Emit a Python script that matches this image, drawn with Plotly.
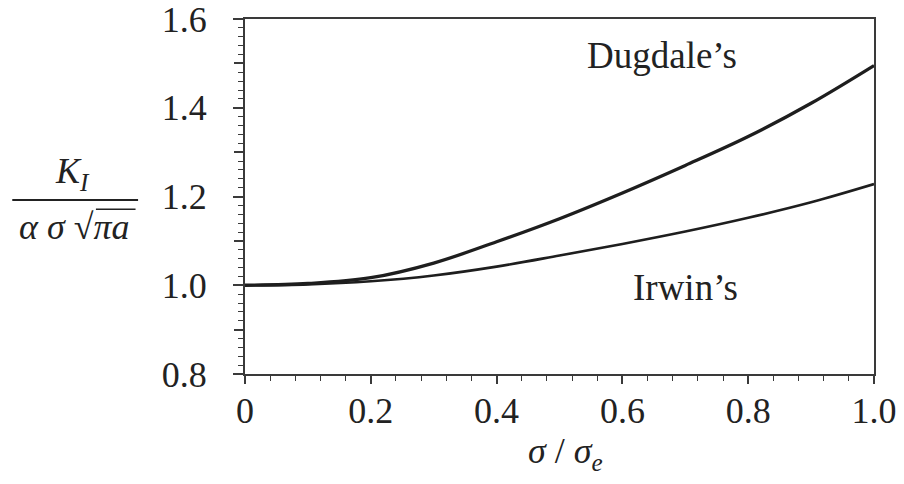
import plotly.graph_objects as go

# Data
sigma_ratio = [0.0, 0.1, 0.2, 0.3, 0.4, 0.5, 0.6, 0.7, 0.8, 0.9, 1.0]
dugdale = [1.000, 1.004, 1.017, 1.050, 1.098, 1.150, 1.208, 1.270, 1.335, 1.410, 1.495]
irwin = [1.000, 1.002, 1.009, 1.022, 1.042, 1.067, 1.093, 1.121, 1.152, 1.187, 1.228]

x_tickvals = [0.0, 0.2, 0.4, 0.6, 0.8, 1.0]
x_ticktext = ["0", "0.2", "0.4", "0.6", "0.8", "1.0"]
y_tickvals = [0.8, 1.0, 1.2, 1.4, 1.6]
y_ticktext = ["0.8", "1.0", "1.2", "1.4", "1.6"]
y_mid_ticks = [0.9, 1.1, 1.3, 1.5]

SERIF = "Liberation Serif, DejaVu Serif"
INK = "#1e1e1e"
AX = "#3a3a3a"

fig = go.Figure()
fig.add_trace(go.Scatter(x=sigma_ratio, y=dugdale, mode="lines", line=dict(color=INK, width=3.3, shape="spline"),
                         name="Dugdale's", showlegend=False))
fig.add_trace(go.Scatter(x=sigma_ratio, y=irwin, mode="lines", line=dict(color=INK, width=2.6, shape="spline"),
                         name="Irwin's", showlegend=False))
# invisible trace on the helper axis that draws the 0.1 ticks
fig.add_trace(go.Scatter(x=[], y=[], yaxis="y2", showlegend=False, hoverinfo="skip"))

fig.update_layout(
    width=904, height=484,
    margin=dict(l=245, r=30, t=19, b=110, autoexpand=False),
    paper_bgcolor="white", plot_bgcolor="white",
    font=dict(family=SERIF, color="#222", size=36),
    xaxis=dict(range=[0, 1.0], tickvals=x_tickvals, ticktext=x_ticktext, automargin=False,
               showgrid=False, zeroline=False, showline=True, linecolor=AX, linewidth=2, mirror=True,
               ticks="outside", ticklen=8, tickwidth=1.5, tickcolor=AX,
               minor=dict(dtick=0.04, ticks="outside", ticklen=5, tickwidth=1.2, tickcolor=AX, showgrid=False),
               tickfont=dict(family=SERIF, size=36, color="#222"), ticklabelstandoff=-4,
               ticklabeloverflow="allow"),
    yaxis=dict(range=[0.8, 1.6], tickvals=y_tickvals, ticktext=y_ticktext, automargin=False,
               showgrid=False, zeroline=False, showline=True, linecolor=AX, linewidth=2, mirror=True,
               ticks="outside", ticklen=10, tickwidth=1.5, tickcolor=AX,
               minor=dict(dtick=0.02, ticks="outside", ticklen=5, tickwidth=1.2, tickcolor=AX, showgrid=False),
               tickfont=dict(family=SERIF, size=36, color="#222"), ticklabelstandoff=19,
               ticklabeloverflow="allow"),
    yaxis2=dict(range=[0.8, 1.6], overlaying="y", side="left", anchor="x", tickvals=y_mid_ticks,
                showticklabels=False, showgrid=False, zeroline=False, showline=False, automargin=False,
                ticks="outside", ticklen=10, tickwidth=1.5, tickcolor=AX),
)

# Curve labels
fig.add_annotation(x=0.663, y=1.517, xref="x", yref="y", text="Dugdale’s", showarrow=False,
                   font=dict(family=SERIF, size=37, color="#222"), xanchor="center", yanchor="middle")
fig.add_annotation(x=0.70, y=0.995, xref="x", yref="y", text="Irwin’s", showarrow=False,
                   font=dict(family=SERIF, size=37, color="#222"), xanchor="center", yanchor="middle")

# X-axis title
fig.add_annotation(x=0.51, y=-0.225, xref="paper", yref="paper",
                   text="<i>σ</i> / <i>σ</i><sub><i>e</i></sub>", showarrow=False,
                   font=dict(family=SERIF, size=36, color="#222"), xanchor="center", yanchor="middle")

# Y-axis title as a fraction
fig.add_annotation(x=-0.275, y=0.565, xref="paper", yref="paper",
                   text="<i>K</i><sub><i>I</i></sub>", showarrow=False,
                   font=dict(family=SERIF, size=36, color="#222"), xanchor="center", yanchor="middle")
fig.add_shape(type="line", xref="paper", yref="paper", x0=-0.370, x1=-0.170, y0=0.490, y1=0.490,
              line=dict(color="#222", width=2))
fig.add_annotation(x=-0.272, y=0.415, xref="paper", yref="paper",
                   text="<i>α σ</i> √<i>πa</i>", showarrow=False,
                   font=dict(family=SERIF, size=36, color="#222"), xanchor="center", yanchor="middle")
fig.add_shape(type="line", xref="paper", yref="paper", x0=-0.237, x1=-0.174, y0=0.464, y1=0.464,
              line=dict(color="#222", width=1.5))

fig.write_html("out.html")
